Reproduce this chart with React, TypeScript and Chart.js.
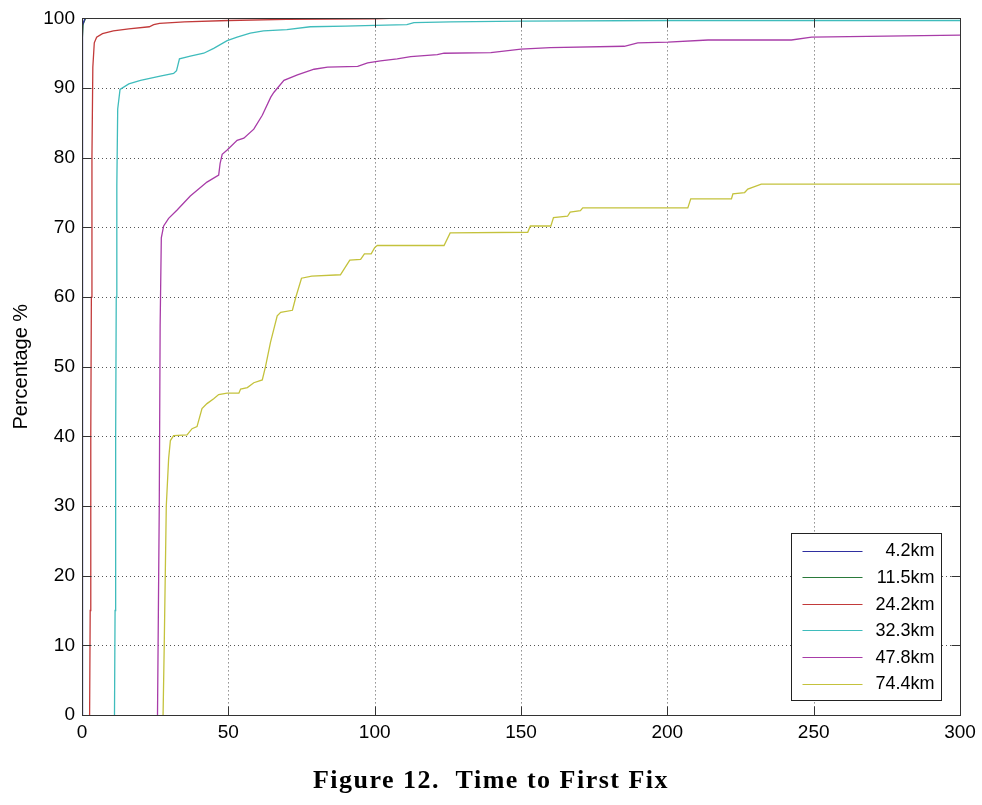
import React, { useEffect, useRef } from "react";
import { Chart, registerables } from "chart.js";

Chart.register(...registerables);

const seriesLabels = ["4.2km", "11.5km", "24.2km", "32.3km", "47.8km", "74.4km"];
const seriesColors = ["#2f2fa0", "#2a7a3a", "#c23a3a", "#3fbcbc", "#a83ca8", "#c4c23c"];

const xTicks = [0, 50, 100, 150, 200, 250, 300];
const yTicks = [0, 10, 20, 30, 40, 50, 60, 70, 80, 90, 100];

const km4_2: [number, number][] = [[0, 0], [0.05, 96], [0.3, 99], [1.0, 100], [10, 100]];
const km11_5: [number, number][] = [[0, 0], [0.08, 97], [0.4, 99.2], [1.2, 100], [12, 100]];
const km24_2: [number, number][] = [
  [2.6, 0], [2.8, 15], [3.0, 40], [3.2, 60], [3.4, 80], [3.7, 93], [4.2, 96.5], [5, 97.3], [7, 97.8],
  [10.7, 98.2], [16, 98.5], [23, 98.8], [24.5, 99.1], [26.5, 99.3], [35, 99.5], [50, 99.7], [70, 99.85],
  [100, 99.95], [105, 100], [195, 100],
];
const km32_3: [number, number][] = [
  [11.1, 0], [11.3, 15], [11.5, 40], [11.7, 60], [11.9, 76], [12.2, 87], [13, 89.8], [16, 90.6], [20, 91.1],
  [26.7, 91.7], [31.3, 92.1], [32.3, 92.5], [33.3, 94.2], [37, 94.6], [41.6, 95], [45, 95.7], [49.6, 96.8],
  [53, 97.3], [57.5, 97.9], [62, 98.2], [70, 98.4], [78, 98.8], [90, 98.9], [100, 99.0], [111, 99.1],
  [113.4, 99.4], [126, 99.5], [150, 99.6], [200, 99.7], [300, 99.7],
];
const km47_8: [number, number][] = [
  [25.8, 0], [26.1, 15], [26.4, 30], [26.7, 56], [27.1, 68.5], [27.9, 70.2], [29.6, 71.3], [32.5, 72.5],
  [37, 74.5], [42.7, 76.5], [46.7, 77.5], [47.2, 79.2], [47.9, 80.5], [49.6, 81.1], [53, 82.5], [55.3, 82.8],
  [58.7, 84.1], [61.6, 86.1], [64.5, 88.7], [65.6, 89.4], [69, 91.1], [73.6, 91.9], [79.3, 92.7], [83.9, 93],
  [94.2, 93.1], [97.6, 93.6], [102, 93.9], [107.7, 94.2], [112.3, 94.5], [121.4, 94.8], [123.7, 95],
  [139.7, 95.1], [150, 95.6], [160, 95.8], [185.3, 96], [189.9, 96.5], [200.2, 96.6], [213.9, 96.9],
  [242.4, 96.9], [249.3, 97.3], [300, 97.6],
];
const km74_4: [number, number][] = [
  [27.7, 0], [28.1, 10], [28.8, 30], [29.6, 36.8], [30.2, 39.4], [31.3, 40.1], [35.9, 40.2], [37.6, 41.1],
  [39.3, 41.4], [41, 44], [42.7, 44.7], [45, 45.4], [46.7, 46], [49.6, 46.2], [53.6, 46.2], [54.2, 46.8],
  [56.5, 47], [58.7, 47.7], [61.6, 48.1], [62.7, 50], [64.4, 53.5], [66.7, 57.3], [67.9, 57.8], [71.9, 58.1],
  [73, 59.9], [75, 62.7], [78.5, 63], [88.3, 63.2], [91.5, 65.3], [95.2, 65.4], [96.5, 66.2], [98.8, 66.2],
  [100, 67.1], [100.9, 67.4], [123.7, 67.4], [125.8, 69.2], [152.3, 69.3], [153.2, 70.2], [160.2, 70.2],
  [161.1, 71.4], [165.9, 71.6], [166.8, 72.2], [170.3, 72.4], [171.1, 72.8], [207, 72.8], [208, 74.1],
  [221.9, 74.1], [222.4, 74.8], [226.4, 75], [227.5, 75.5], [232.1, 76.2], [300, 76.2],
];

const seriesData = [km4_2, km11_5, km24_2, km32_3, km47_8, km74_4];
const yTitle = "Percentage %";
const caption = "Figure 12.  Time to First Fix";

const FONT = "'Liberation Sans', Arial, sans-serif";

const framePlugin = {
  id: "matlabFrame",
  beforeDatasetsDraw(chart: any) {
    const { ctx, chartArea: a, scales } = chart;
    ctx.save();
    ctx.strokeStyle = "#555";
    ctx.lineWidth = 1;
    ctx.setLineDash([1, 3]);
    for (const v of xTicks) {
      const x = Math.round(scales.x.getPixelForValue(v)) + 0.5;
      ctx.beginPath();
      ctx.moveTo(x, a.top);
      ctx.lineTo(x, a.bottom);
      ctx.stroke();
    }
    for (const v of yTicks) {
      const y = Math.round(scales.y.getPixelForValue(v)) + 0.5;
      ctx.beginPath();
      ctx.moveTo(a.left, y);
      ctx.lineTo(a.right, y);
      ctx.stroke();
    }
    ctx.restore();
  },
  afterDraw(chart: any) {
    const { ctx, chartArea: a, scales } = chart;
    ctx.save();
    ctx.strokeStyle = "#333";
    ctx.lineWidth = 1;
    ctx.setLineDash([]);
    const L = Math.round(a.left) + 0.5;
    const R = Math.round(a.right) + 0.5;
    const T = Math.round(a.top) + 0.5;
    const B = Math.round(a.bottom) + 0.5;
    ctx.strokeRect(L, T, R - L, B - T);
    const tl = 9;
    ctx.beginPath();
    for (const v of xTicks) {
      const x = Math.round(scales.x.getPixelForValue(v)) + 0.5;
      ctx.moveTo(x, B);
      ctx.lineTo(x, B - tl);
      ctx.moveTo(x, T);
      ctx.lineTo(x, T + tl);
    }
    for (const v of yTicks) {
      const y = Math.round(scales.y.getPixelForValue(v)) + 0.5;
      ctx.moveTo(L, y);
      ctx.lineTo(L + tl, y);
      ctx.moveTo(R, y);
      ctx.lineTo(R - tl, y);
    }
    ctx.stroke();

    // legend box
    const bw = 150;
    const bh = 167;
    const bx = Math.round(a.right - 19 - bw) + 0.5;
    const by = Math.round(a.bottom - 15 - bh) + 0.5;
    ctx.fillStyle = "#fff";
    ctx.fillRect(bx, by, bw, bh);
    ctx.strokeStyle = "#222";
    ctx.strokeRect(bx, by, bw, bh);
    ctx.font = `18px ${FONT}`;
    ctx.textAlign = "right";
    ctx.textBaseline = "middle";
    seriesLabels.forEach((lab, i) => {
      const y = by + 17 + i * 26.6;
      ctx.strokeStyle = seriesColors[i];
      ctx.lineWidth = 1.2;
      ctx.beginPath();
      ctx.moveTo(bx + 11, Math.round(y) + 0.5);
      ctx.lineTo(bx + 71, Math.round(y) + 0.5);
      ctx.stroke();
      ctx.fillStyle = "#000";
      ctx.fillText(lab, bx + bw - 7, y + 1);
    });
    ctx.restore();
  },
};

export default function App() {
  const ref = useRef<HTMLCanvasElement | null>(null);

  useEffect(() => {
    if (!ref.current) return;
    const chart = new Chart(ref.current, {
      type: "scatter",
      data: {
        datasets: seriesData.map((s, i) => ({
          label: seriesLabels[i],
          data: s.map(([x, y]) => ({ x, y })),
          showLine: true,
          borderColor: seriesColors[i],
          backgroundColor: seriesColors[i],
          borderWidth: 1.3,
          pointRadius: 0,
          tension: 0,
          fill: false,
        })),
      },
      options: {
        responsive: false,
        animation: false,
        devicePixelRatio: 1,
        layout: { padding: { left: 0, right: 22, top: 15, bottom: 0 } },
        plugins: { legend: { display: false }, tooltip: { enabled: false } },
        scales: {
          x: {
            type: "linear",
            min: 0,
            max: 300,
            afterBuildTicks: (s: any) => {
              s.ticks = xTicks.map((v) => ({ value: v }));
            },
            ticks: { color: "#000", font: { family: FONT, size: 19 }, padding: 6, maxRotation: 0 },
            grid: { display: false, drawTicks: false },
            border: { display: false },
            afterFit: (s: any) => {
              s.height = 90;
            },
          },
          y: {
            type: "linear",
            min: 0,
            max: 100,
            afterBuildTicks: (s: any) => {
              s.ticks = yTicks.map((v) => ({ value: v }));
            },
            ticks: { color: "#000", font: { family: FONT, size: 19 }, padding: 7 },
            grid: { display: false, drawTicks: false },
            border: { display: false },
            title: {
              display: true,
              text: yTitle,
              color: "#000",
              font: { family: FONT, size: 20 },
              padding: { top: 9, bottom: 0 },
            },
            afterFit: (s: any) => {
              s.width = 82;
            },
          },
        },
      },
      plugins: [framePlugin],
    });
    return () => chart.destroy();
  }, []);

  return (
    <div style={{ position: "absolute", left: 0, top: 0, width: 982, height: 805, background: "#fff" }}>
      <canvas ref={ref} width={982} height={805} style={{ display: "block" }} />
      <div
        style={{
          position: "absolute",
          left: 0,
          top: 765,
          width: 982,
          textAlign: "center",
          fontFamily: "'Liberation Serif', 'Times New Roman', serif",
          fontWeight: "bold",
          fontSize: 26,
          letterSpacing: 1.5,
          color: "#000",
          whiteSpace: "pre",
        }}
      >
        {caption}
      </div>
    </div>
  );
}
